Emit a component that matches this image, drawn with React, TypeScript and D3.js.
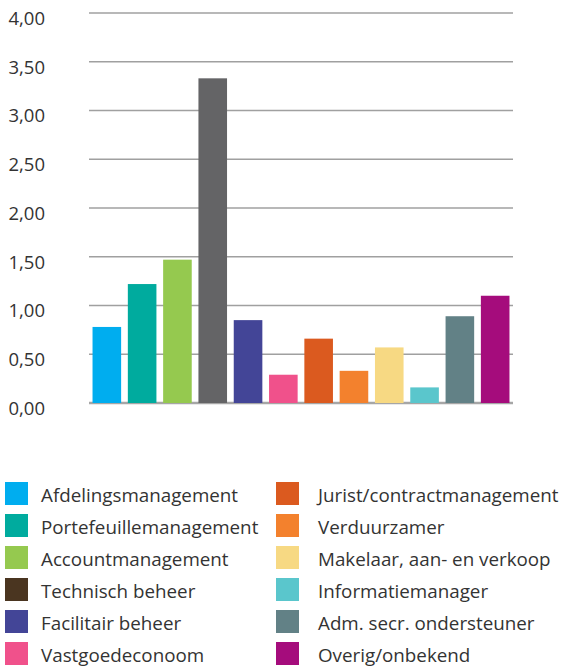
import React, { useEffect, useRef } from 'react';
import * as d3 from 'd3';

const categories = [
  'Afdelingsmanagement',
  'Portefeuillemanagement',
  'Accountmanagement',
  'Technisch beheer',
  'Facilitair beheer',
  'Vastgoedeconoom',
  'Jurist/contractmanagement',
  'Verduurzamer',
  'Makelaar, aan- en verkoop',
  'Informatiemanager',
  'Adm. secr. ondersteuner',
  'Overig/onbekend',
];
const values = [0.78, 1.22, 1.47, 3.33, 0.85, 0.29, 0.66, 0.33, 0.57, 0.16, 0.89, 1.1];
const legendColors = [
  '#00adef', '#00ab9e', '#95c94f', '#4a3520', '#434597', '#f0518b',
  '#db5a1f', '#f3812d', '#f7d983', '#5ac6cc', '#628186', '#a50c7c',
];
// the tall bar is grey in the original, not the legend's brown
const barColors = [
  '#00adef', '#00ab9e', '#95c94f', '#646466', '#434597', '#f0518b',
  '#db5a1f', '#f3812d', '#f7d983', '#5ac6cc', '#628186', '#a50c7c',
];
const yTicks = [0, 0.5, 1, 1.5, 2, 2.5, 3, 3.5, 4];

const W = 561;
const H = 668;
const FONT = '"Open Sans", "Noto Sans", sans-serif';

export default function App() {
  const ref = useRef<SVGSVGElement>(null);

  useEffect(() => {
    document.body.style.margin = '0';
    const svg = d3.select(ref.current);
    svg.selectAll('*').remove();

    const x = d3.scaleBand().domain(categories).range([89, 513]).paddingInner(0.19).paddingOuter(0.1);
    const y = d3.scaleLinear().domain([0, 4]).range([403, 13]);
    const fmt = (d: number) => d.toFixed(2).replace('.', ',');

    // gridlines
    svg
      .append('g')
      .selectAll('line')
      .data(yTicks)
      .enter()
      .append('line')
      .attr('x1', 89)
      .attr('x2', 513)
      .attr('y1', d => y(d))
      .attr('y2', d => y(d))
      .attr('stroke', d => (d === 0 ? '#a6a6a6' : '#a0a0a0'))
      .attr('stroke-width', d => (d === 0 ? 2.5 : 1.4));

    svg
      .append('g')
      .selectAll('text')
      .data(yTicks)
      .enter()
      .append('text')
      .attr('x', 45)
      .attr('y', d => y(d) + 7)
      .attr('text-anchor', 'end')
      .attr('dominant-baseline', 'middle')
      .style('font-family', FONT)
      .style('font-size', '18.5px')
      .attr('fill', '#333')
      .text(d => fmt(d));

    svg
      .append('g')
      .selectAll('rect')
      .data(values)
      .enter()
      .append('rect')
      .attr('x', (d, i) => x(categories[i]) as number)
      .attr('y', d => y(d))
      .attr('width', x.bandwidth())
      .attr('height', d => y(0) - y(d))
      .attr('fill', (d, i) => barColors[i]);

    // legend, two columns of six
    const legend = svg.append('g');
    categories.forEach((c, i) => {
      const col = Math.floor(i / 6);
      const row = i % 6;
      const lx = col === 0 ? 5 : 276;
      const ly = 482 + row * 32;
      legend.append('rect').attr('x', lx).attr('y', ly).attr('width', 23).attr('height', 23).attr('fill', legendColors[i]);
      legend
        .append('text')
        .attr('x', lx + (col === 0 ? 36 : 42))
        .attr('y', ly + 20)
        .style('font-family', FONT)
        .style('font-size', '18.8px')
        .attr('fill', '#333')
        .text(c);
    });
  }, []);

  return <svg ref={ref} width={W} height={H} style={{ display: 'block' }} />;
}
